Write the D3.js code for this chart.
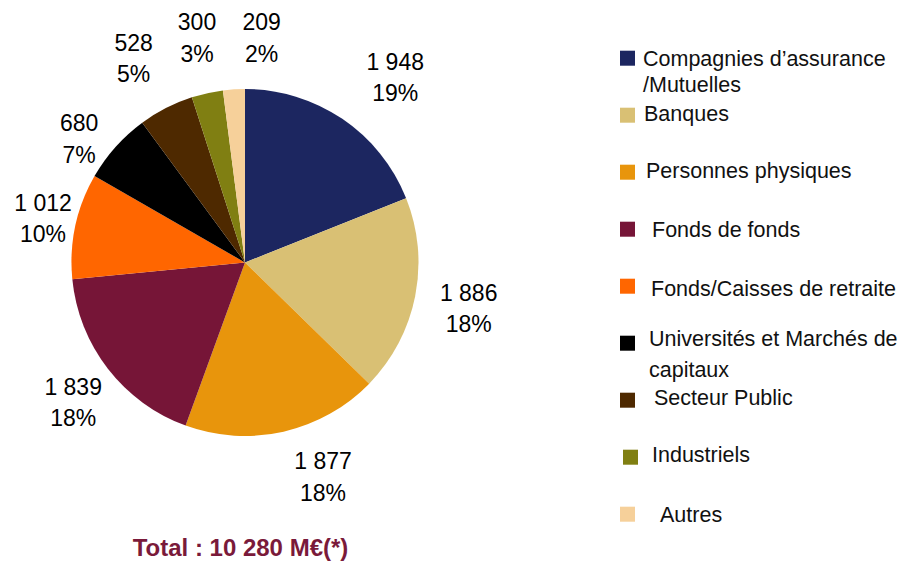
<!DOCTYPE html>
<html>
<head>
<meta charset="utf-8">
<script src="https://cdn.jsdelivr.net/npm/d3@7"></script>
<style>
  html, body { margin: 0; padding: 0; background: #fff; }
  svg { display: block; font-family: "Liberation Sans", Arial, sans-serif; }
</style>
</head>
<body>
<svg id="chart" width="899" height="561"></svg>
<script>
// ---- Data ----
const categories = [
  "Compagnies d’assurance /Mutuelles",
  "Banques",
  "Personnes physiques",
  "Fonds de fonds",
  "Fonds/Caisses de retraite",
  "Universités et Marchés de capitaux",
  "Secteur Public",
  "Industriels",
  "Autres"
];
const legendLines = [
  ["Compagnies d’assurance", "/Mutuelles"],
  ["Banques"],
  ["Personnes physiques"],
  ["Fonds de fonds"],
  ["Fonds/Caisses de retraite"],
  ["Universités et Marchés de", "capitaux"],
  ["Secteur Public"],
  ["Industriels"],
  ["Autres"]
];
const values = [1948, 1886, 1877, 1839, 1012, 680, 528, 300, 209];
const valueLabels = ["1 948", "1 886", "1 877", "1 839", "1 012", "680", "528", "300", "209"];
const percentLabels = ["19%", "18%", "18%", "18%", "10%", "7%", "5%", "3%", "2%"];
const colors = ["#1c2660", "#d9c074", "#e8950c", "#761537", "#ff6600", "#000000", "#4e2900", "#807f12", "#f6d09a"];
const totalLabel = "Total : 10 280 M€(*)";

// ---- Layout (not data) ----
const cx = 245, cy = 262.5, R = 173.5, labelR = 225;
const labelNudge = [[24, 1], [3, 2], [28, -5], [6, 2], [18, 3], [2, 26], [-9, -4], [1, -5], [31, 0]];
const legendTextDx = [23, 24, 26, 32, 31, 29, 34, 32, 40];
const legendTextDy = [15.3, 13.7, 13.7, 15, 17, 10, 12.7, 12.7, 15];
const legendLineGap = [25.7, 0, 0, 0, 0, 31.7, 0, 0, 0];
const legendSwatchDx = [0, 0, 0, 0, 0, 0, 0, 3, 0];

const svg = d3.select("#chart");

const pie = d3.pie().value(d => d).sort(null);
const arcs = pie(values);
const arc = d3.arc().innerRadius(0).outerRadius(R);
const labelArc = d3.arc().innerRadius(labelR).outerRadius(labelR);

const g = svg.append("g").attr("transform", `translate(${cx},${cy})`);
g.selectAll("path")
  .data(arcs)
  .join("path")
  .attr("d", arc)
  .attr("fill", (d, i) => colors[i]);

const labels = g.selectAll("g.lbl")
  .data(arcs)
  .join("g")
  .attr("class", "lbl")
  .attr("transform", (d, i) => {
    const [x, y] = labelArc.centroid(d);
    return `translate(${x + labelNudge[i][0]},${y + labelNudge[i][1]})`;
  });
labels.append("text")
  .attr("text-anchor", "middle")
  .attr("y", -7.5)
  .attr("font-size", 23)
  .attr("fill", "#000")
  .text((d, i) => valueLabels[i]);
labels.append("text")
  .attr("text-anchor", "middle")
  .attr("y", 24)
  .attr("font-size", 23)
  .attr("fill", "#000")
  .text((d, i) => percentLabels[i]);

// ---- Legend ----
const ly = d3.scaleLinear().domain([0, categories.length - 1]).range([50.7, 506.7]);
const legend = svg.selectAll("g.leg")
  .data(categories)
  .join("g")
  .attr("class", "leg")
  .attr("transform", (d, i) => `translate(620,${ly(i)})`);
legend.append("rect")
  .attr("x", (d, i) => legendSwatchDx[i])
  .attr("width", 15)
  .attr("height", 15)
  .attr("fill", (d, i) => colors[i]);
legend.each(function (d, i) {
  const t = d3.select(this).append("text")
    .attr("font-size", 21.5)
    .attr("fill", "#111");
  legendLines[i].forEach((line, j) => {
    t.append("tspan")
      .attr("x", legendTextDx[i])
      .attr("y", legendTextDy[i] + j * legendLineGap[i])
      .text(line);
  });
});

// ---- Total ----
svg.append("text")
  .attr("x", 240.5)
  .attr("y", 556)
  .attr("text-anchor", "middle")
  .attr("font-size", 24)
  .attr("font-weight", "bold")
  .attr("fill", "#7a1a3a")
  .text(totalLabel);
</script>
</body>
</html>
